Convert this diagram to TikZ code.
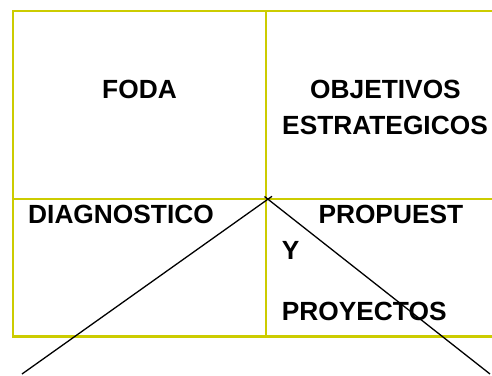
\documentclass[tikz,border=0pt]{standalone}
\usepackage{fontspec}
\setmainfont{Liberation Sans}
\definecolor{gridyellow}{RGB}{204,204,0}
\begin{document}
\begin{tikzpicture}[x=1pt,y=-1pt,font=\fontsize{26.3}{30}\selectfont\bfseries]
                \useasboundingbox (0,0) rectangle (492,375);
                \clip (0,0) rectangle (492,375);
                \draw[gridyellow,line width=2.2pt] (13,11) rectangle (504,336.5);
                \draw[gridyellow,line width=2.2pt] (266,11) -- (266,336.5);
                \draw[gridyellow,line width=2.2pt] (13,199) -- (504,199);
                \node[anchor=base,inner sep=0pt] (foda) at (139.5,98.3) {FODA};
                \node[anchor=base,inner sep=0pt] (objetivos) at (385.5,98.3) {OBJETIVOS};
                \node[anchor=base,inner sep=0pt] (estrategicos) at (385,134.3) {ESTRATEGICOS};
                \node[anchor=base west,inner sep=0pt] (diagnostico) at (28,223.3) {DIAGNOSTICO};
                \node[anchor=base west,inner sep=0pt] (propuest) at (318.3,223.3) {PROPUEST};
                \node[anchor=base west,inner sep=0pt] (Y) at (281.7,259) {Y};
                \node[anchor=base west,inner sep=0pt] (proyectos) at (281.7,320) {PROYECTOS};
                \coordinate (L1) at (22,374);
                \coordinate (L2) at (272,196.3);
                \coordinate (R1) at (264.5,196.5);
                \coordinate (R2) at (490,374);
                \draw[line width=1.3pt] (L1) -- (L2);
                \draw[line width=1.3pt] (R1) -- (R2);
            \end{tikzpicture}
\end{document}
